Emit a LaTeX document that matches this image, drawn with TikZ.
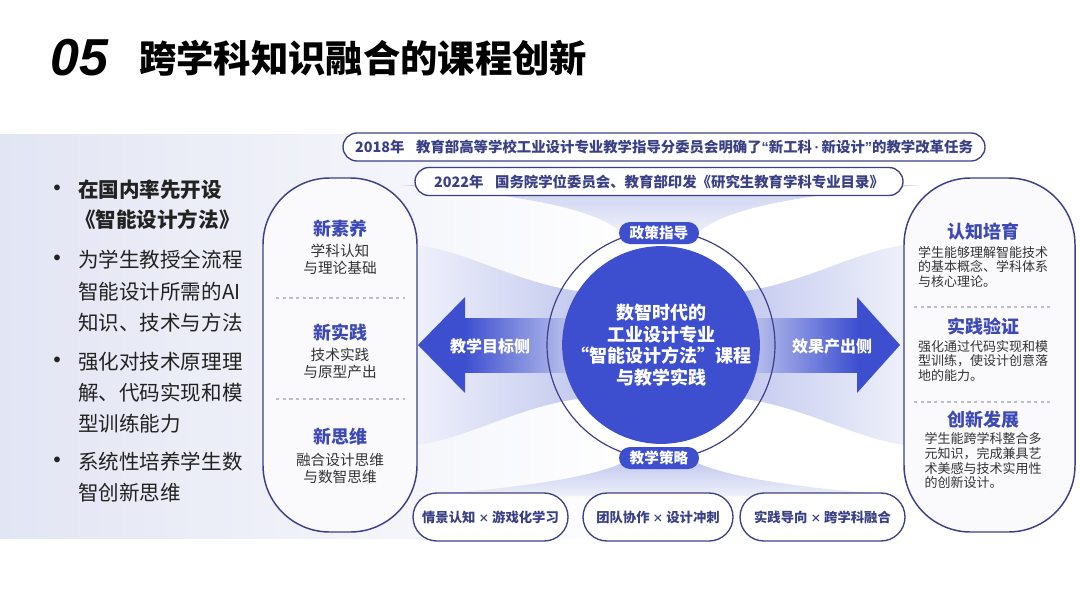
\documentclass[tikz,border=0pt]{standalone}
\usepackage{fontspec}
\setmainfont{Noto Sans CJK SC}
\newfontfamily\latinfont{Liberation Sans}
\definecolor{mainblue}{HTML}{3D4FCF}
\definecolor{navy}{HTML}{3C3F88}
\definecolor{headblue}{HTML}{3D49B5}
\definecolor{bodygray}{HTML}{333333}
\definecolor{listgray}{HTML}{222222}
\definecolor{boxtext}{HTML}{3A4084}
\definecolor{lav}{HTML}{C3C9EE}
\definecolor{lavlight}{HTML}{EEF0FA}
\definecolor{bandleft}{HTML}{E2E5F3}
\definecolor{dashgray}{HTML}{BDBFC8}
\definecolor{pillfill}{HTML}{FAFAFD}
\tikzset{
  pillbox/.style={draw=navy, line width=1.1pt, fill=pillfill, rounded corners=50pt, inner sep=0},
  topbox/.style={draw=navy, line width=1pt, fill=white, text=boxtext, font=\bfseries\fontsize{10.8}{13}\selectfont, minimum height=21pt, rounded corners=10.5pt, inner sep=0},
  botbox/.style={draw=navy, line width=1pt, fill=white, text=boxtext, font=\bfseries\fontsize{10}{12}\selectfont, minimum height=36pt, rounded corners=18pt, inner sep=0},
  tagbox/.style={fill=mainblue, text=white, font=\bfseries\fontsize{11}{13}\selectfont, minimum width=60pt, minimum height=16.5pt, rounded corners=8.25pt, inner sep=0},
  headtext/.style={text=headblue, font=\bfseries\fontsize{13.5}{16}\selectfont, inner sep=0},
  lbody/.style={text=bodygray, font=\fontsize{11}{12.75}\selectfont, align=center, inner sep=0},
  rbody/.style={text=bodygray, font=\fontsize{9.75}{11}\selectfont, align=left, inner sep=0},
  listtext/.style={text=listgray, font=\fontsize{15.4}{18}\selectfont, anchor=west, inner sep=0},
  bulletdot/.style={text=listgray, font=\latinfont\bfseries\fontsize{15}{16}\selectfont, inner sep=0},
  sepline/.style={draw=dashgray, line width=0.8pt, dash pattern=on 2.5pt off 2.5pt},
  arrowtext/.style={text=white, font=\bfseries\fontsize{12}{14}\selectfont, inner sep=0},
}
\begin{document}
\begin{tikzpicture}[x=0.75pt,y=-0.75pt]
\useasboundingbox (0,0) rectangle (1080,589);
\fill[white] (0,0) rectangle (1080,589);
% background band
\shade[left color=bandleft, right color=white] (0,134) rectangle (640,538);
\fill[white] (639,134) rectangle (1080,538);
% title
\node[anchor=west, inner sep=0, font=\latinfont\bfseries\itshape\fontsize{39}{39}\selectfont] (num) at (50,58) {05};
\node[anchor=west, inner sep=0, text=black, font=\bfseries\fontsize{28}{28}\selectfont] (title) at (139,58) {跨学科知识融合的课程创新};
% ring background
\fill[white] (661,345) circle (114);
% funnels
\shade[top color=lav!85, bottom color=lavlight] (400,185) .. controls (540,196) and (600,212) .. (622,233) -- (698,233) .. controls (720,212) and (780,196) .. (920,185) -- cycle;
\shade[left color=lavlight, right color=lav] (417,245) .. controls (470,252) and (520,285) .. (585,292) -- (585,398) .. controls (520,405) and (470,438) .. (417,445) -- cycle;
\shade[left color=lav, right color=lavlight] (905,245) .. controls (852,252) and (802,285) .. (737,292) -- (737,398) .. controls (802,405) and (852,438) .. (905,445) -- cycle;
\shade[top color=lav, bottom color=lavlight] (625,462) -- (695,462) .. controls (730,478) and (800,488) .. (905,496) -- (413,496) .. controls (520,488) and (590,478) .. (625,462) -- cycle;
% side pills
\node[pillbox, minimum width=115.5pt, minimum height=265.5pt] (goals) at (340,355) {};
\node[pillbox, minimum width=128.25pt, minimum height=265.5pt] (outcomes) at (989.5,355) {};
% top policy boxes
\node[topbox, minimum width=481.5pt] (p2018) at (664,147) {2018年\hspace{0.8em}教育部高等学校工业设计专业教学指导分委员会明确了{\latinfont“}新工科{\latinfont\,·\,}新设计{\latinfont”}的教学改革任务};
\node[topbox, minimum width=366pt] (p2022) at (659,181.5) {2022年\hspace{0.8em}国务院学位委员会、教育部印发《研究生教育学科专业目录》};
% bottom strategy boxes
\node[botbox, minimum width=116.25pt] (s1) at (490.5,517) {情景认知 {\fontsize{8}{10}\selectfont ×} 游戏化学习};
\node[botbox, minimum width=112.5pt] (s2) at (658,517) {团队协作 {\fontsize{8}{10}\selectfont ×} 设计冲刺};
\node[botbox, minimum width=123.75pt] (s3) at (822.5,517) {实践导向 {\fontsize{8}{10}\selectfont ×} 跨学科融合};
% arrows
\shade[left color=mainblue, right color=lav] (464,318) rectangle (578,372);
\fill[mainblue] (418,345) -- (465,297) -- (465,393) -- cycle;
\shade[left color=lav, right color=mainblue] (744,318) rectangle (858,372);
\fill[mainblue] (900,345) -- (857,297) -- (857,393) -- cycle;
\node[arrowtext] (lefttxt) at (490,346) {教学目标侧};
\node[arrowtext] (righttxt) at (832,346) {效果产出侧};
% ring and core
\node[circle, draw=navy, line width=0.9pt, minimum size=171pt, inner sep=0] (ring) at (661,345) {};
\node[circle, fill=mainblue, minimum size=142.5pt, inner sep=0, text=white, align=center, font=\bfseries\fontsize{13.5}{16.3}\selectfont] (core) at (661,345) {数智时代的\\工业设计专业\\“智能设计方法”课程\\与教学实践};
\node[tagbox] (policy) at (659,233) {政策指导};
\node[tagbox] (strategy) at (659,458) {教学策略};
% left pill contents
\node[headtext] (g1h) at (340,229) {新素养};
\node[lbody] (g1b) at (340,259) {学科认知\\与理论基础};
\draw[sepline] (276,298) -- (405,298);
\node[headtext] (g2h) at (340,333) {新实践};
\node[lbody] (g2b) at (340,363) {技术实践\\与原型产出};
\draw[sepline] (276,399) -- (405,399);
\node[headtext] (g3h) at (340,437) {新思维};
\node[lbody] (g3b) at (340,468) {融合设计思维\\与数智思维};
% right pill contents
\node[headtext] (o1h) at (983,232) {认知培育};
\node[rbody] (o1b) at (983,267) {学生能够理解智能技术\\的基本概念、学科体系\\与核心理论。};
\draw[sepline] (914,307) -- (1050,307);
\node[headtext] (o2h) at (983,327) {实践验证};
\node[rbody] (o2b) at (983,361) {强化通过代码实现和模\\型训练，使设计创意落\\地的能力。};
\draw[sepline] (914,402) -- (1050,402);
\node[headtext] (o3h) at (983,420) {创新发展};
\node[rbody] (o3b) at (983,461) {学生能跨学科整合多\\元知识，完成兼具艺\\术美感与技术实用性\\的创新设计。};
% left list
\node[bulletdot] (d1) at (57,190) {•};
\node[listtext] (l1) at (78,190) {\bfseries 在国内率先开设};
\node[listtext] (l2) at (75,220) {\bfseries 《智能设计方法》};
\node[bulletdot] (d2) at (57,260) {•};
\node[listtext] (l3) at (78,260) {为学生教授全流程};
\node[listtext] (l4) at (78,292) {智能设计所需的AI};
\node[listtext] (l5) at (78,323) {知识、技术与方法};
\node[bulletdot] (d3) at (57,362) {•};
\node[listtext] (l6) at (78,362) {强化对技术原理理};
\node[listtext] (l7) at (78,393) {解、代码实现和模};
\node[listtext] (l8) at (78,424) {型训练能力};
\node[bulletdot] (d4) at (57,462) {•};
\node[listtext] (l9) at (78,462) {系统性培养学生数};
\node[listtext] (l10) at (78,493) {智创新思维};
\end{tikzpicture}
\end{document}
